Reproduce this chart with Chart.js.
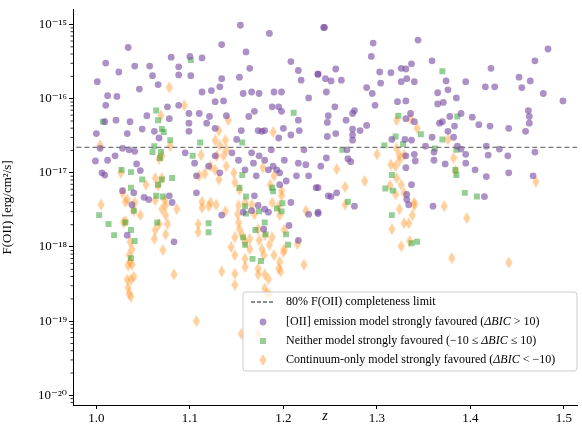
<!DOCTYPE html>
<html>
<head>
<meta charset="UTF-8">
<script src="https://cdn.jsdelivr.net/npm/chart.js"></script>
<style>
  html, body { margin: 0; padding: 0; background: #fff; }
  #wrap { width: 582px; height: 425px; }
</style>
</head>
<body>
<div id="wrap"><canvas id="c"></canvas></div>
<script>
// redshift and log10 F(OII)
const emisZ = [1.001,1.01,1.034,1.024,1.012,1.01,1.022,1.041,1.046,1.057,1.06,1.066,1.08,1.088,1.10,1.113,1.101,1.088,1.113,1.134,1.154,1.16,1.185,1.164,1.134,1.153,1.123,1.132,1.136,1.127,1.157,1.166,1.174,1.19,1.198,1.208,1.216,1.219,1.227,1.237,1.243,
  1.0,1.009,1.021,1.036,1.033,1.049,1.054,1.062,1.067,1.076,1.078,1.088,1.099,1.099,1.099,1.11,1.118,1.127,1.121,1.139,1.15,1.155,1.163,1.169,1.173,1.177,1.18,1.188,1.195,1.198,1.195,1.2,1.208,1.217,1.216,
  0.999,1.004,1.006,1.009,1.012,1.02,1.028,1.035,1.041,1.043,1.047,1.028,1.04,1.051,1.056,1.078,1.081,1.083,1.033,1.038,1.095,1.105,1.107,1.107,1.12,1.127,1.132,1.145,1.152,1.159,1.166,1.168,1.171,1.174,1.18,1.184,1.187,1.189,1.193,1.196,1.196,1.201,1.203,1.208,1.214,1.216,1.222,1.224,1.227,1.235,1.237,1.169,1.173,1.18,1.184,1.179,1.166,1.134,1.157,1.206,1.216,1.227,1.248,
  1.244,1.296,1.294,1.344,1.256,1.303,1.315,1.326,1.331,1.337,1.359,1.237,1.245,1.251,1.262,1.304,1.326,1.332,1.34,1.374,1.395,1.422,1.452,1.464,1.469,1.483,1.416,1.426,1.455,1.478,1.499,1.246,1.289,1.295,1.298,1.322,1.331,1.365,1.365,1.371,1.376,1.385,1.255,1.248,1.247,1.276,1.274,1.267,1.289,1.274,1.274,1.274,1.282,1.256,1.247,1.331,1.336,1.34,1.367,1.37,1.376,1.378,1.383,1.39,1.402,1.409,1.421,1.441,1.459,1.462,1.463,1.463,1.316,1.33,1.337,1.359,1.352,1.382,1.386,1.39,1.417,1.431,1.268,1.246,1.269,1.272,1.24,1.331,1.34,1.341,1.361,1.361,1.373,1.395,1.395,1.419,1.44,1.469,1.331,1.405,1.417,1.441,1.467,1.337,1.332,1.332,1.334,1.257,1.251,1.276,1.36,1.415,1.237,1.237];
const emisLogF = [-15.77,-15.52,-15.31,-15.64,-15.96,-16.09,-15.97,-15.56,-15.87,-15.56,-15.69,-15.81,-15.44,-15.57,-15.43,-15.45,-15.69,-15.68,-15.91,-15.27,-15.01,-15.37,-15.12,-15.59,-15.73,-15.71,-15.89,-15.84,-16.03,-16.04,-15.93,-15.91,-15.93,-15.91,-15.91,-15.5,-15.62,-15.75,-15.99,-15.67,-15.04,
  -16.47,-16.31,-16.29,-16.31,-16.47,-16.41,-16.23,-16.44,-16.53,-16.11,-16.27,-16.09,-16.2,-16.33,-16.44,-16.2,-16.33,-16.4,-16.24,-16.23,-16.55,-16.43,-16.24,-16.17,-16.43,-16.44,-16.43,-16.11,-16.11,-16.17,-16.53,-16.4,-16.49,-16.43,-16.29,
  -16.84,-16.67,-17.0,-17.03,-16.83,-16.77,-16.67,-16.69,-16.71,-16.88,-16.97,-17.24,-17.27,-17.33,-17.36,-17.31,-17.4,-17.93,-17.84,-17.43,-16.73,-16.87,-17.04,-17.27,-16.91,-16.77,-17.0,-16.73,-16.83,-16.96,-16.73,-16.87,-17.04,-16.77,-16.83,-16.96,-16.69,-16.91,-16.96,-17.0,-17.16,-16.83,-17.11,-17.4,-17.04,-16.87,-16.69,-16.89,-17.04,-17.2,-17.53,-17.31,-17.44,-17.49,-17.53,-17.76,-17.51,-17.57,-17.53,-17.71,-17.91,-17.56,-17.31,
  -15.04,-15.25,-15.43,-15.21,-15.6,-15.64,-15.65,-15.59,-15.6,-15.53,-15.49,-15.67,-15.73,-15.76,-15.75,-15.79,-15.77,-15.73,-15.77,-15.76,-15.77,-15.59,-15.71,-15.76,-15.49,-15.33,-15.84,-15.84,-15.85,-15.93,-16.03,-15.91,-15.85,-15.93,-16.09,-16.04,-16.03,-15.92,-16.07,-16.05,-15.88,-15.99,-16.11,-16.23,-16.32,-16.16,-16.2,-16.29,-16.36,-16.41,-16.49,-16.56,-16.43,-16.47,-16.51,-16.27,-16.2,-16.31,-16.33,-16.31,-16.44,-16.24,-16.37,-16.2,-16.25,-16.35,-16.37,-16.4,-16.44,-16.16,-16.24,-16.33,-16.55,-16.55,-16.56,-16.52,-16.64,-16.52,-16.64,-16.68,-16.64,-16.68,-16.69,-16.8,-16.81,-16.85,-16.91,-16.77,-16.75,-16.84,-16.72,-16.83,-16.88,-16.75,-16.87,-16.76,-16.77,-16.72,-16.93,-16.96,-17.05,-17.0,-17.04,-17.16,-17.29,-17.36,-17.43,-17.27,-17.32,-17.45,-17.45,-17.32,-17.2,-17.55];

const neitherZ = [1.007,1.064,1.066,1.07,1.072,1.062,1.06,1.069,1.068,1.079,1.101,1.111,1.103,1.027,1.037,1.049,1.081,1.07,1.066,1.037,1.064,1.071,1.04,1.003,1.013,1.019,1.031,1.037,1.041,1.037,1.065,1.12,1.12,1.211,1.156,1.156,1.153,1.16,1.159,1.16,1.174,1.18,1.17,1.181,1.193,1.199,1.198,1.188,1.189,1.203,1.205,1.157,1.159,1.167,1.176,
  1.37,1.323,1.386,1.347,1.32,1.308,1.328,1.37,1.362,1.385,1.263,1.384,1.385,1.316,1.309,1.317,1.394,1.407,1.269,1.316,1.337,1.343];
const neitherLogF = [-16.31,-16.16,-16.29,-16.41,-16.45,-16.64,-16.72,-16.72,-16.8,-16.56,-15.48,-16.59,-16.77,-16.96,-16.99,-17.09,-17.07,-17.09,-17.16,-17.2,-17.31,-17.32,-17.51,-17.57,-17.69,-17.84,-17.67,-17.77,-17.92,-18.15,-17.67,-17.68,-17.8,-16.19,-16.59,-17.03,-17.2,-17.32,-17.45,-17.55,-17.52,-17.67,-17.77,-17.83,-17.48,-17.41,-17.52,-17.2,-17.25,-17.83,-17.97,-17.87,-17.97,-18.16,-18.19,
  -15.63,-16.23,-16.24,-16.48,-16.51,-16.63,-16.61,-16.55,-16.67,-16.69,-16.69,-16.96,-17.03,-17.03,-17.21,-17.24,-17.27,-17.32,-17.39,-17.57,-17.95,-17.93];

const contZ = [1.078,1.094,1.069,1.141,1.131,1.127,1.132,1.138,1.139,1.189,1.129,1.136,1.112,1.122,1.127,1.139,1.116,1.11,1.131,1.147,1.148,1.153,1.178,1.186,1.19,1.198,1.004,1.026,1.079,1.07,1.067,1.063,1.07,1.053,1.066,1.028,1.031,1.033,1.005,1.041,1.063,1.073,1.074,1.086,1.113,1.113,1.12,1.122,1.128,1.138,1.04,1.047,1.07,1.074,1.029,1.031,1.063,1.067,1.076,1.074,1.109,1.109,1.062,1.071,1.036,1.038,1.035,1.036,1.034,1.038,1.033,1.037,1.04,1.034,1.035,1.037,1.083,1.107,1.151,1.152,1.153,1.156,1.159,1.148,1.144,1.148,1.159,1.159,1.164,1.164,1.169,1.173,1.174,1.177,1.179,1.18,1.185,1.188,1.19,1.195,1.196,1.197,1.2,1.173,1.173,1.18,1.184,1.18,1.185,1.148,1.134,1.148,1.196,1.201,1.201,1.215,1.222,1.152,1.159,1.166,1.188,1.195,1.198,1.224,1.155,1.173,1.182,
  1.321,1.336,1.343,1.376,1.321,1.324,1.329,1.3,1.324,1.382,1.384,1.315,1.32,1.257,1.287,1.321,1.326,1.266,1.314,1.32,1.329,1.266,1.34,1.34,1.372,1.324,1.338,1.329,1.334,1.316,1.396,1.335,1.326,1.38,1.441,1.47];
const contLogF = [-15.85,-16.09,-16.23,-16.29,-16.43,-16.56,-16.63,-16.56,-16.69,-16.45,-16.77,-16.77,-16.76,-16.91,-16.96,-16.91,-17.01,-17.04,-17.09,-17.0,-17.13,-17.23,-16.93,-17.16,-17.04,-17.24,-16.63,-17.0,-16.64,-16.77,-16.81,-17.07,-17.07,-17.16,-17.17,-17.27,-17.39,-17.36,-17.43,-17.4,-17.37,-17.37,-17.44,-17.49,-17.39,-17.47,-17.45,-17.4,-17.43,-17.52,-17.51,-17.57,-17.49,-17.57,-17.67,-17.65,-17.77,-17.69,-17.69,-17.83,-17.69,-17.8,-17.89,-18.04,-17.93,-18.03,-18.11,-18.2,-18.25,-18.24,-18.44,-18.44,-18.4,-18.55,-18.63,-18.67,-18.37,-19.0,-17.56,-17.67,-17.76,-17.84,-17.93,-17.87,-18.0,-18.11,-18.16,-18.27,-18.03,-17.89,-17.56,-17.76,-17.91,-18.03,-18.11,-17.84,-17.97,-17.87,-18.11,-18.29,-18.2,-18.33,-18.07,-18.29,-18.37,-18.37,-18.43,-18.56,-18.64,-18.51,-18.33,-18.36,-17.57,-17.77,-18.03,-17.96,-18.24,-17.44,-17.4,-17.43,-17.4,-17.45,-17.31,-17.51,-19.17,-19.17,-18.63,
  -16.29,-16.27,-16.4,-16.55,-16.67,-16.76,-16.76,-16.75,-16.83,-16.8,-16.97,-16.89,-16.91,-16.95,-17.11,-17.07,-17.16,-17.19,-17.17,-17.29,-17.27,-17.43,-17.4,-17.44,-17.45,-17.49,-17.57,-17.68,-17.68,-17.76,-17.61,-17.92,-17.99,-18.15,-18.21,-17.12];

const completenessLimit = 2.2e-17;
const xTicks = [1.0, 1.1, 1.2, 1.3, 1.4, 1.5];
const yTickExp = [-20, -19, -18, -17, -16, -15];

const SERIF = "'Liberation Serif', 'DejaVu Serif', serif";
const purple = 'rgba(117,72,160,0.6)';
const green = 'rgba(44,160,44,0.5)';
const orange = 'rgba(255,150,40,0.45)';

const toPts = (zs, fs) => zs.map((z, i) => ({ x: z, y: Math.pow(10, fs[i]) }));

// thin diamond like matplotlib 'd'
function thinDiamond(color) {
  const c = document.createElement('canvas');
  c.width = 8; c.height = 12;
  const g = c.getContext('2d');
  g.fillStyle = color;
  g.beginPath();
  g.moveTo(4, 0); g.lineTo(7.6, 6); g.lineTo(4, 12); g.lineTo(0.4, 6);
  g.closePath(); g.fill();
  return c;
}
const diamondImg = thinDiamond(orange);

const supers = { '-': '⁻', '0': '⁰', '1': '¹', '2': '²', '5': '⁵', '6': '⁶', '7': '⁷', '8': '⁸', '9': '⁹' };
const sup = n => String(n).split('').map(ch => supers[ch]).join('');

// minor log ticks + legend
const extras = {
  id: 'extras',
  afterDraw(chart) {
    const ctx = chart.ctx, ys = chart.scales.y, area = chart.chartArea;
    ctx.save();
    ctx.strokeStyle = '#000';
    ctx.lineWidth = 0.8;
    for (let e = -21; e <= -15; e++) {
      for (let m = 2; m <= 9; m++) {
        const v = m * Math.pow(10, e);
        if (v < ys.min || v > ys.max) continue;
        const p = ys.getPixelForValue(v);
        ctx.beginPath(); ctx.moveTo(area.left, p); ctx.lineTo(area.left - 2.5, p); ctx.stroke();
      }
    }
    // legend box
    const bx = 243, by = 292, bw = 334, bh = 79;
    ctx.fillStyle = 'rgba(255,255,255,0.8)';
    ctx.strokeStyle = '#ccc';
    ctx.lineWidth = 1;
    ctx.beginPath(); ctx.roundRect(bx, by, bw, bh, 3); ctx.fill(); ctx.stroke();
    const mx = 263, tx = 286, rows = [302, 322, 341, 360];
    ctx.strokeStyle = '#666'; ctx.lineWidth = 1.3; ctx.setLineDash([4, 2]);
    ctx.beginPath(); ctx.moveTo(mx - 12, rows[0]); ctx.lineTo(mx + 12, rows[0]); ctx.stroke();
    ctx.setLineDash([]);
    ctx.fillStyle = purple;
    ctx.beginPath(); ctx.arc(mx, rows[1], 3.4, 0, Math.PI * 2); ctx.fill();
    ctx.fillStyle = green; ctx.fillRect(mx - 3, rows[2] - 3, 6, 6);
    ctx.drawImage(diamondImg, mx - 4, rows[3] - 6);
    ctx.fillStyle = '#000'; ctx.textBaseline = 'middle';
    const txt = (parts, y) => {
      let x = tx;
      parts.forEach(([s, it]) => {
        ctx.font = (it ? 'italic ' : '') + '12px ' + SERIF;
        ctx.fillText(s, x, y);
        x += ctx.measureText(s).width;
      });
    };
    txt([['80% F(OII) completeness limit', 0]], rows[0]);
    txt([['[OII] emission model strongly favoured (', 0], ['ΔBIC', 1], [' > 10)', 0]], rows[1]);
    txt([['Neither model strongly favoured (−10 ≤ ', 0], ['ΔBIC', 1], [' ≤ 10)', 0]], rows[2]);
    txt([['Continuum-only model strongly favoured (', 0], ['ΔBIC', 1], [' < −10)', 0]], rows[3]);
    ctx.restore();
  }
};

new Chart(document.getElementById('c'), {
  type: 'scatter',
  data: {
    datasets: [
      { label: 'cont', data: toPts(contZ, contLogF), pointStyle: diamondImg, order: 3 },
      { label: 'neither', data: toPts(neitherZ, neitherLogF), pointStyle: 'rect', pointRadius: 4.2, backgroundColor: green, borderWidth: 0, order: 2 },
      { label: 'emis', data: toPts(emisZ, emisLogF), pointStyle: 'circle', pointRadius: 3.4, backgroundColor: purple, borderWidth: 0, order: 1 },
      { type: 'line', label: 'limit', data: [{ x: 0.97, y: completenessLimit }, { x: 1.53, y: completenessLimit }],
        borderColor: '#777', borderWidth: 1.3, borderDash: [5, 3], pointRadius: 0, order: 0 }
    ]
  },
  options: {
    responsive: true,
    maintainAspectRatio: false,
    animation: false,
    layout: { padding: { top: 5, right: 2, left: 0, bottom: 0 } },
    plugins: { legend: { display: false }, tooltip: { enabled: false } },
    scales: {
      x: {
        type: 'linear', min: 0.975, max: 1.514,
        afterBuildTicks: s => { s.ticks = xTicks.map(v => ({ value: v })); },
        ticks: { color: '#000', font: { family: SERIF, size: 13 }, callback: v => v.toFixed(1), padding: 2 },
        grid: { drawOnChartArea: false, tickLength: 4, color: '#000' },
        border: { color: '#000' },
        title: { display: true, text: 'z', font: { family: SERIF, size: 14, style: 'italic' }, color: '#000', padding: 0 },
        afterFit: s => { s.height = 20; }
      },
      y: {
        type: 'logarithmic', min: 7.4e-21, max: 1.58e-15,
        afterBuildTicks: s => { s.ticks = yTickExp.map(e => ({ value: Math.pow(10, e) })); },
        ticks: { color: '#000', font: { family: SERIF, size: 13 }, callback: v => '10' + sup(Math.round(Math.log10(v))), padding: 2 },
        grid: { drawOnChartArea: false, tickLength: 4, color: '#000' },
        border: { color: '#000' },
        title: { display: true, text: 'F(OII) [erg/cm²/s]', font: { family: SERIF, size: 13 }, color: '#000', padding: 0 },
        afterFit: s => { s.width = 73; }
      }
    }
  },
  plugins: [extras]
});
</script>
</body>
</html>
